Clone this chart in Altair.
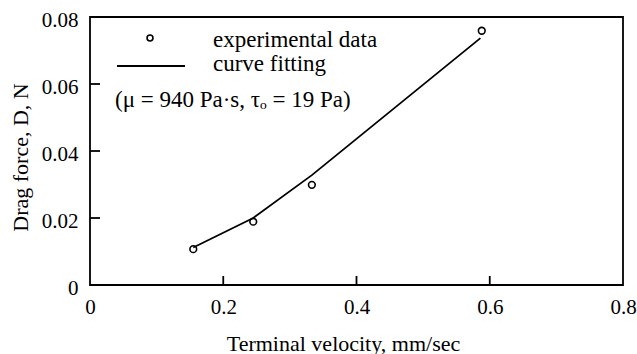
import altair as alt
import pandas as pd

# experimental data
vel = [0.155, 0.245, 0.333, 0.588]
drag = [0.0107, 0.0189, 0.0299, 0.0759]
# curve fitting
fit_vel = [0.155, 0.245, 0.333, 0.586]
fit_drag = [0.0112, 0.0200, 0.0328, 0.0737]
# axis ticks
x_ticks = [0, 0.2, 0.4, 0.6, 0.8]
y_ticks = [0, 0.02, 0.04, 0.06, 0.08]
x_inner = [0.2, 0.4, 0.6]
y_inner = [0.02, 0.04, 0.06]

FONT = "Liberation Serif"
W, H = 533, 268

exp_df = pd.DataFrame({"v": vel, "d": drag})
fit_df = pd.DataFrame({"v": fit_vel, "d": fit_drag})
xt_df = pd.DataFrame({"v": x_inner})
yt_df = pd.DataFrame({"d": y_inner})

xs = alt.Scale(domain=[0, 0.8], nice=False, zero=False)
ys = alt.Scale(domain=[0, 0.08], nice=False, zero=False)

xaxis = alt.Axis(values=x_ticks, format="~g", grid=False, ticks=False, domain=False,
                 labelFont=FONT, labelFontSize=21, labelColor="black", labelPadding=11,
                 labelFlush=False,
                 title="Terminal velocity, mm/sec", titleFont=FONT, titleFontSize=22,
                 titleFontWeight="normal", titleColor="black",
                 titleX=253, titleY=65, titleBaseline="alphabetic", titleAlign="center",
                 titleAnchor="start")
yaxis = alt.Axis(values=y_ticks, format="~g", grid=False, ticks=False, domain=False,
                 labelFont=FONT, labelFontSize=21, labelColor="black", labelPadding=12,
                 labelFlush=False, labelBaseline="middle", labelOffset=3,
                 title="Drag force, D, N", titleFont=FONT, titleFontSize=22,
                 titleFontWeight="normal", titleColor="black",
                 titleX=-63, titleY=140, titleAngle=-90, titleBaseline="alphabetic",
                 titleAlign="center", titleAnchor="start")

line = alt.Chart(fit_df).mark_line(color="black", strokeWidth=1.8).encode(
    x=alt.X("v:Q", scale=xs, axis=xaxis),
    y=alt.Y("d:Q", scale=ys, axis=yaxis),
)
pts = alt.Chart(exp_df).mark_point(shape="circle", filled=False, color="black",
                                   strokeWidth=1.6, size=45, opacity=1).encode(
    x=alt.X("v:Q", scale=xs),
    y=alt.Y("d:Q", scale=ys),
)
xt = alt.Chart(xt_df).mark_rule(color="black", strokeWidth=1.8).encode(
    x=alt.X("v:Q", scale=xs),
    y=alt.value(H),
    y2=alt.value(H - 9),
)
yt = alt.Chart(yt_df).mark_rule(color="black", strokeWidth=1.8).encode(
    y=alt.Y("d:Q", scale=ys),
    x=alt.value(0),
    x2=alt.value(10),
)

# legend / annotation
leg_pt = alt.Chart(pd.DataFrame({"k": [0]})).mark_point(
    shape="circle", filled=False, color="black", strokeWidth=1.6, size=35, opacity=1
).encode(x=alt.value(60), y=alt.value(21))
leg_line = alt.Chart(pd.DataFrame({"k": [0]})).mark_rule(color="black", strokeWidth=1.8).encode(
    x=alt.value(27), x2=alt.value(95), y=alt.value(49)
)
labels = ["experimental data", "curve fitting", "(μ = 940 Pa·s, τₒ = 19 Pa)"]
lab_x = [123, 123, 25]
lab_y = [30, 54, 90]
texts = [
    alt.Chart(pd.DataFrame({"t": [labels[i]]})).mark_text(
        font=FONT, fontSize=23, align="left", baseline="alphabetic", color="black"
    ).encode(text="t:N", x=alt.value(lab_x[i]), y=alt.value(lab_y[i]))
    for i in range(3)
]

chart = alt.layer(line, pts, xt, yt, leg_pt, leg_line, *texts).properties(
    width=W, height=H,
    autosize=alt.AutoSizeParams(type="none"),
    padding={"left": 90, "top": 17, "right": 14, "bottom": 69},
    background="white",
).configure_view(stroke="black", strokeWidth=1.8)

chart.save("out.html", embed_options={"renderer": "svg", "actions": False})
